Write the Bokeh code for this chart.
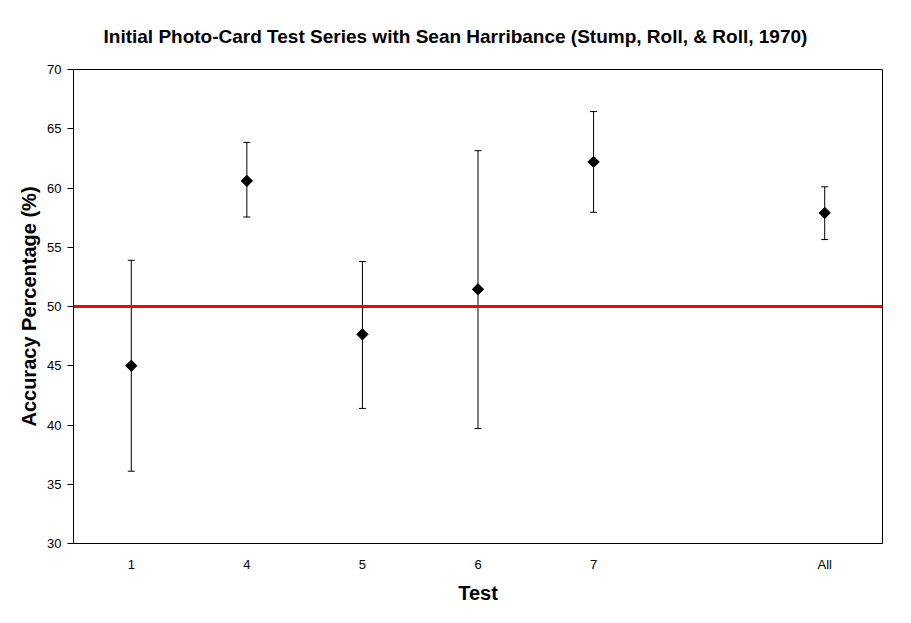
from bokeh.plotting import figure
from bokeh.models import FactorRange, Range1d, Span, Whisker, TeeHead, ColumnDataSource, FixedTicker
from bokeh.embed import file_html
from bokeh.resources import INLINE
import numpy as np

slots = ["1", "4", "5", "6", "7", " ", "All"]
tests = ["1", "4", "5", "6", "7", "All"]
mean = [45.0, 60.6, 47.65, 51.45, 62.2, 57.9]
upper = [53.9, 63.85, 53.8, 63.15, 66.45, 60.1]
lower = [36.1, 57.55, 41.4, 39.7, 57.95, 55.65]
chance = 50
y_ticks = [30, 35, 40, 45, 50, 55, 60, 65, 70]
title_text = "Initial Photo-Card Test Series with Sean Harribance (Stump, Roll, & Roll, 1970)"

FONT = "Liberation Sans"

src = ColumnDataSource(dict(test=tests, mean=mean, upper=upper, lower=lower))

p = figure(width=903, height=615, output_backend="svg", toolbar_location=None,
           x_range=FactorRange(factors=slots, range_padding=0),
           y_range=Range1d(30, 70),
           min_border_left=73, min_border_right=21, min_border_top=69, min_border_bottom=72,
           title=title_text)

p.title.text_font = FONT
p.title.text_font_size = "19px"
p.title.text_font_style = "bold"
p.title.text_color = "black"
p.title.align = "left"
p.title.offset = 30
p.title.standoff = 46

p.xgrid.visible = False
p.ygrid.visible = False
p.outline_line_color = "black"
p.outline_line_width = 1
p.outline_line_alpha = 1
p.background_fill_color = "white"
p.border_fill_color = "white"

p.yaxis.ticker = FixedTicker(ticks=y_ticks)
p.yaxis.minor_tick_line_color = None
p.yaxis.major_tick_in = 0
p.yaxis.major_tick_out = 6
p.yaxis.major_label_standoff = 6
p.yaxis.axis_label = "Accuracy Percentage (%)"
p.yaxis.axis_label_standoff = 4

p.xaxis.major_tick_line_color = None
p.xaxis.minor_tick_line_color = None
p.xaxis.major_label_standoff = 7
p.xaxis.axis_label = "Test"
p.xaxis.axis_label_standoff = 7

for ax in (p.xaxis, p.yaxis):
    ax.axis_line_color = "black"
    ax.major_label_text_font = FONT
    ax.major_label_text_font_size = "13px"
    ax.major_label_text_color = "black"
    ax.axis_label_text_font = FONT
    ax.axis_label_text_font_size = "20px"
    ax.axis_label_text_font_style = "bold"
    ax.axis_label_text_color = "black"
p.yaxis.major_tick_line_color = "black"

p.add_layout(Span(location=chance, dimension="width", line_color="#FF0000", line_width=3))

w = Whisker(source=src, base="test", upper="upper", lower="lower",
            line_color="black", line_width=1,
            upper_head=TeeHead(size=7, line_color="black", line_width=1),
            lower_head=TeeHead(size=7, line_color="black", line_width=1))
p.add_layout(w)

p.scatter(x="test", y="mean", source=src, marker="square", angle=np.pi / 4,
          size=8, fill_color="black", line_color="black")

open("out.html", "w").write(file_html(p, INLINE))
